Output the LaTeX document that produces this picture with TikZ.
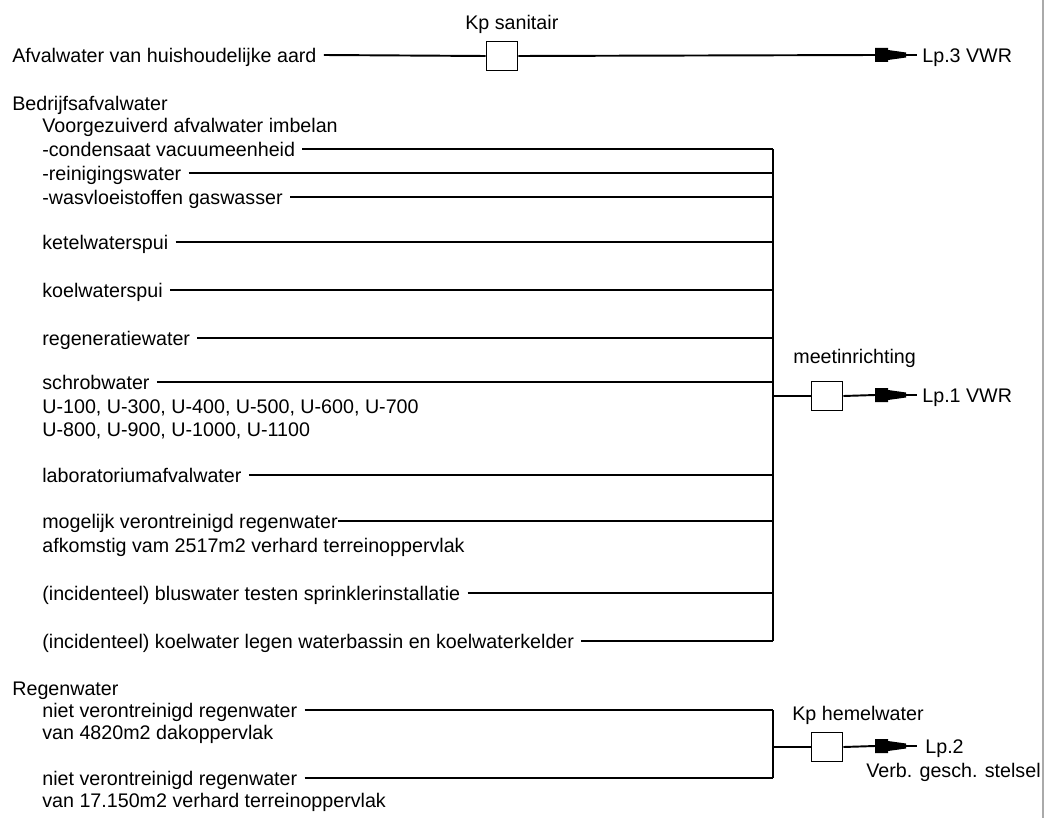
\documentclass[tikz,border=0pt]{standalone}
\usepackage{fontspec}
\setmainfont{Liberation Sans}
\usetikzlibrary{positioning}
\definecolor{cadblack}{RGB}{0,0,0}
\definecolor{cadgray}{RGB}{170,170,170}
\tikzset{
  lbl/.style={anchor=west,inner sep=0pt,text height=8pt,text depth=0pt,font=\fontsize{11.2}{13}\selectfont},
  pipe/.style={cadblack,line width=1.1pt},
  pit/.style={draw=cadblack,line width=1.1pt,fill=white,minimum width=6.2mm,minimum height=5.8mm,inner sep=0pt},
  outlet/.pic={
    \fill[cadblack] (0,-7) -- (13,-7) -- (13,-5) -- (31,-2.5) -- (31,2.5) -- (13,5) -- (13,7) -- (0,7) -- cycle;
    \draw[pipe] (31,0) -- (42,0);
  }
}

\begin{document}
\begin{tikzpicture}[x=0.2mm,y=-0.2mm]
\useasboundingbox (0,0) rectangle (1045,818);
\draw[cadgray,line width=0.6pt] (1043,0) -- (1043,818);

% huishoudelijk afvalwater
\node[lbl] (huis) at (12,55) {Afvalwater van huishoudelijke aard};
\node[pit] (kps) at (502,56) {};
\node[lbl] (kpstxt) at (465,22) {Kp sanitair};
\coordinate (out3) at (875,55);
\draw[pipe] ([xshift=1.4mm]huis.east) -- (kps.west);
\draw[pipe] (kps.east) -- (out3);
\pic at (out3) {outlet};
\node[lbl] (lp3) at (922,55) {Lp.3 VWR};

% bedrijfsafvalwater
\coordinate (busA) at (773,149);
\coordinate (busB) at (773,641);
\node[lbl] (bedrijf) at (12,103) {Bedrijfsafvalwater};
\node[lbl] (voorg) at (42,125) {Voorgezuiverd afvalwater imbelan};
\node[lbl] (cond) at (42,149) {-condensaat vacuumeenheid};
\node[lbl] (rein) at (42,173) {-reinigingswater};
\node[lbl] (wasv) at (42,197) {-wasvloeistoffen gaswasser};
\node[lbl] (ketel) at (42,242) {ketelwaterspui};
\node[lbl] (koel) at (42,290) {koelwaterspui};
\node[lbl] (regen) at (42,338) {regeneratiewater};
\node[lbl] (schrob) at (42,382) {schrobwater};
\node[lbl] (units1) at (42,406) {U-100, U-300, U-400, U-500, U-600, U-700};
\node[lbl] (units2) at (42,429) {U-800, U-900, U-1000, U-1100};
\node[lbl] (labo) at (42,475) {laboratoriumafvalwater};
\node[lbl] (mogel) at (42,521) {mogelijk verontreinigd regenwater};
\node[lbl] (afkom) at (42,545) {afkomstig vam 2517m2 verhard terreinoppervlak};
\node[lbl] (blus) at (42,593) {(incidenteel) bluswater testen sprinklerinstallatie};
\node[lbl] (kelder) at (42,641) {(incidenteel) koelwater legen waterbassin en koelwaterkelder};

\draw[pipe] ([xshift=1.4mm]cond.east) -- (cond.east -| busA);
\draw[pipe] ([xshift=1.4mm]rein.east) -- (rein.east -| busA);
\draw[pipe] ([xshift=1.4mm]wasv.east) -- (wasv.east -| busA);
\draw[pipe] ([xshift=1.4mm]ketel.east) -- (ketel.east -| busA);
\draw[pipe] ([xshift=1.4mm]koel.east) -- (koel.east -| busA);
\draw[pipe] ([xshift=1.4mm]regen.east) -- (regen.east -| busA);
\draw[pipe] ([xshift=1.4mm]schrob.east) -- (schrob.east -| busA);
\draw[pipe] ([xshift=1.4mm]labo.east) -- (labo.east -| busA);
\draw[pipe] (mogel.east) -- (mogel.east -| busA);
\draw[pipe] ([xshift=1.4mm]blus.east) -- (blus.east -| busA);
\draw[pipe] ([xshift=1.4mm]kelder.east) -- (kelder.east -| busA);
\draw[pipe] (busA) -- (busB);

\node[pit] (meet) at (827,396) {};
\node[lbl] (meettxt) at (793,356) {meetinrichting};
\coordinate (out1) at (875,395);
\draw[pipe] (meet.west -| busA) -- (meet.west);
\draw[pipe] (meet.east) -- (out1);
\pic at (out1) {outlet};
\node[lbl] (lp1) at (922,395) {Lp.1 VWR};

% regenwater
\coordinate (busC) at (773,710);
\coordinate (busD) at (773,778);
\node[lbl] (regenw) at (12,688) {Regenwater};
\node[lbl] (niet1) at (42,710) {niet verontreinigd regenwater};
\node[lbl] (dak) at (42,732) {van 4820m2 dakoppervlak};
\node[lbl] (niet2) at (42,778) {niet verontreinigd regenwater};
\node[lbl] (terrein) at (42,800) {van 17.150m2 verhard terreinoppervlak};
\draw[pipe] ([xshift=1.4mm]niet1.east) -- (niet1.east -| busC);
\draw[pipe] ([xshift=1.4mm]niet2.east) -- (niet2.east -| busC);
\draw[pipe] (busC) -- (busD);

\node[pit] (kph) at (827,747) {};
\node[lbl] (kphtxt) at (792,713) {Kp hemelwater};
\coordinate (out2) at (875,746);
\draw[pipe] (kph.west -| busC) -- (kph.west);
\draw[pipe] (kph.east) -- (out2);
\pic at (out2) {outlet};
\node[lbl] (lp2) at (925,746) {Lp.2};
\node[lbl] (stelsel) at (866,770) {Verb. gesch. stelsel};
\end{tikzpicture}
\end{document}
